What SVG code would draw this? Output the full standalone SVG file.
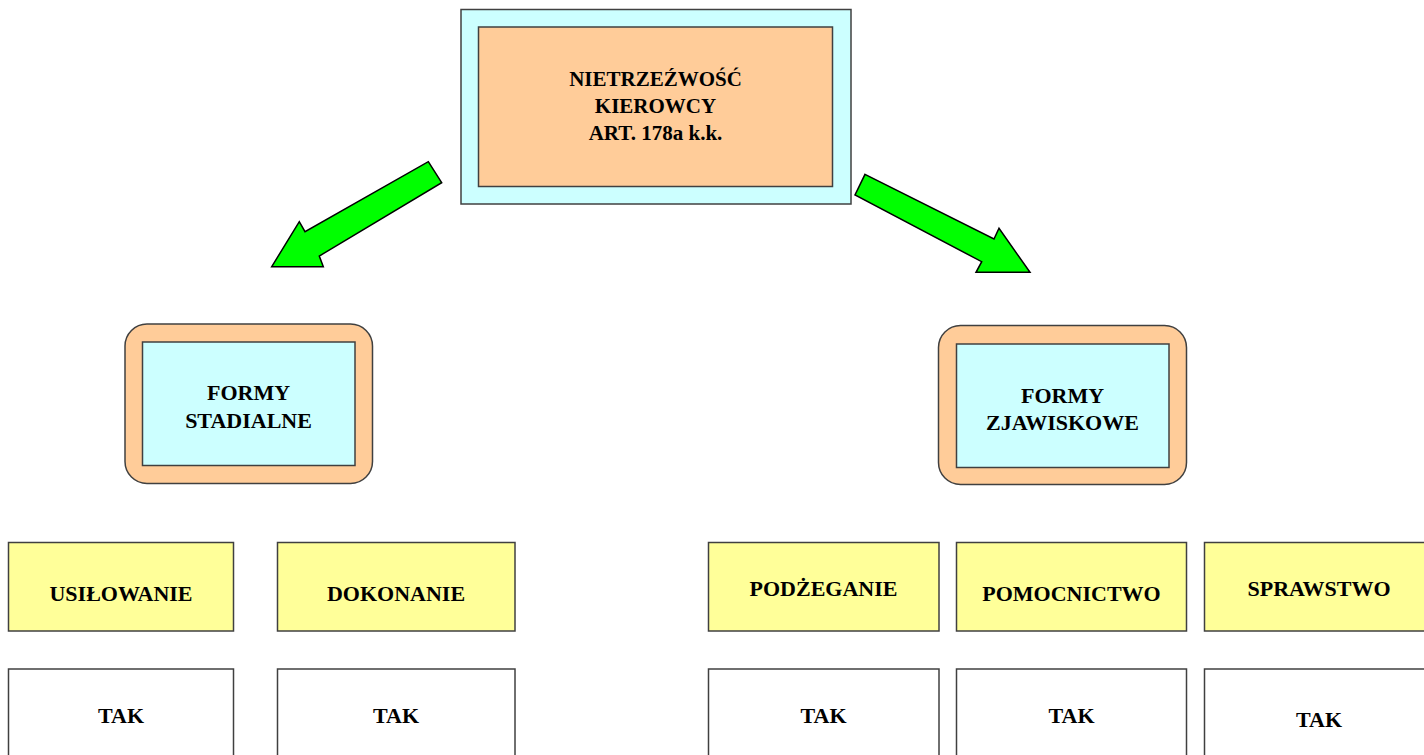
<svg xmlns="http://www.w3.org/2000/svg" width="1424" height="755" viewBox="0 0 1424 755">
<style>
  text { font-family: "Liberation Serif", "Times New Roman", serif; font-weight: bold; font-size: 22px; fill: #000; text-anchor: middle; }
  .title { font-size: 21px; }
  .box { stroke: #404040; stroke-width: 1.5; }
  .cyan { fill: #CCFFFF; }
  .peach { fill: #FFCC99; }
  .yellow { fill: #FFFF99; }
  .white { fill: #FFFFFF; }
  .arrow { fill: #00FF00; stroke: #000; stroke-width: 1.5; stroke-linejoin: miter; }
</style>
<rect width="1424" height="755" fill="#FFFFFF"/>
<g id="connectors">
  <polygon class="arrow" points="428.3,161.7 441.7,182.7 319.3,256 323.3,266.7 271.7,266.7 299.3,221.7 305,231.7"/>
  <polygon class="arrow" points="865,174.3 994,239 999,228.3 1030,272.3 976,272.3 981.7,261.7 855,195"/>
</g>
<g id="node-root">
  <rect class="box cyan" x="461" y="9.5" width="390" height="194.5"/>
  <rect class="box peach" x="478.5" y="27" width="354" height="159.5"/>
  <text class="title" x="655.5" y="86">NIETRZEŹWOŚĆ</text>
  <text class="title" x="655.5" y="112.5">KIEROWCY</text>
  <text class="title" x="655.5" y="140">ART. 178a k.k.</text>
</g>
<g id="node-stadialne">
  <rect class="box peach" x="125" y="324" width="247.5" height="159.5" rx="22" ry="22"/>
  <rect class="box cyan" x="142.5" y="342" width="212.5" height="123.5"/>
  <text x="248.5" y="400">FORMY</text>
  <text x="248.5" y="428">STADIALNE</text>
</g>
<g id="node-zjawiskowe">
  <rect class="box peach" x="938.5" y="325.5" width="248" height="159" rx="22" ry="22"/>
  <rect class="box cyan" x="956.5" y="344" width="212.5" height="123.5"/>
  <text x="1062.5" y="403">FORMY</text>
  <text x="1062.5" y="430">ZJAWISKOWE</text>
</g>
<g id="node-usilowanie">
  <rect class="box yellow" x="8.5" y="542.5" width="225" height="88.5"/>
  <text x="121" y="601">USIŁOWANIE</text>
</g>
<g id="node-usilowanie-tak">
  <rect class="box white" x="8.5" y="669" width="225" height="100"/>
  <text x="121" y="723">TAK</text>
</g>
<g id="node-dokonanie">
  <rect class="box yellow" x="277.5" y="542.5" width="237.5" height="88.5"/>
  <text x="396" y="601">DOKONANIE</text>
</g>
<g id="node-dokonanie-tak">
  <rect class="box white" x="277.5" y="669" width="237.5" height="100"/>
  <text x="396" y="723">TAK</text>
</g>
<g id="node-podzeganie">
  <rect class="box yellow" x="708.5" y="542.5" width="230.5" height="88.5"/>
  <text x="823.5" y="596">PODŻEGANIE</text>
</g>
<g id="node-podzeganie-tak">
  <rect class="box white" x="708.5" y="669" width="230.5" height="100"/>
  <text x="823.5" y="723">TAK</text>
</g>
<g id="node-pomocnictwo">
  <rect class="box yellow" x="956.5" y="542.5" width="230" height="88.5"/>
  <text x="1071.5" y="601">POMOCNICTWO</text>
</g>
<g id="node-pomocnictwo-tak">
  <rect class="box white" x="956.5" y="669" width="230" height="100"/>
  <text x="1071.5" y="723">TAK</text>
</g>
<g id="node-sprawstwo">
  <rect class="box yellow" x="1204.5" y="542.5" width="230" height="88.5"/>
  <text x="1319" y="596">SPRAWSTWO</text>
</g>
<g id="node-sprawstwo-tak">
  <rect class="box white" x="1204.5" y="669" width="230" height="100"/>
  <text x="1319" y="727">TAK</text>
</g>
</svg>
